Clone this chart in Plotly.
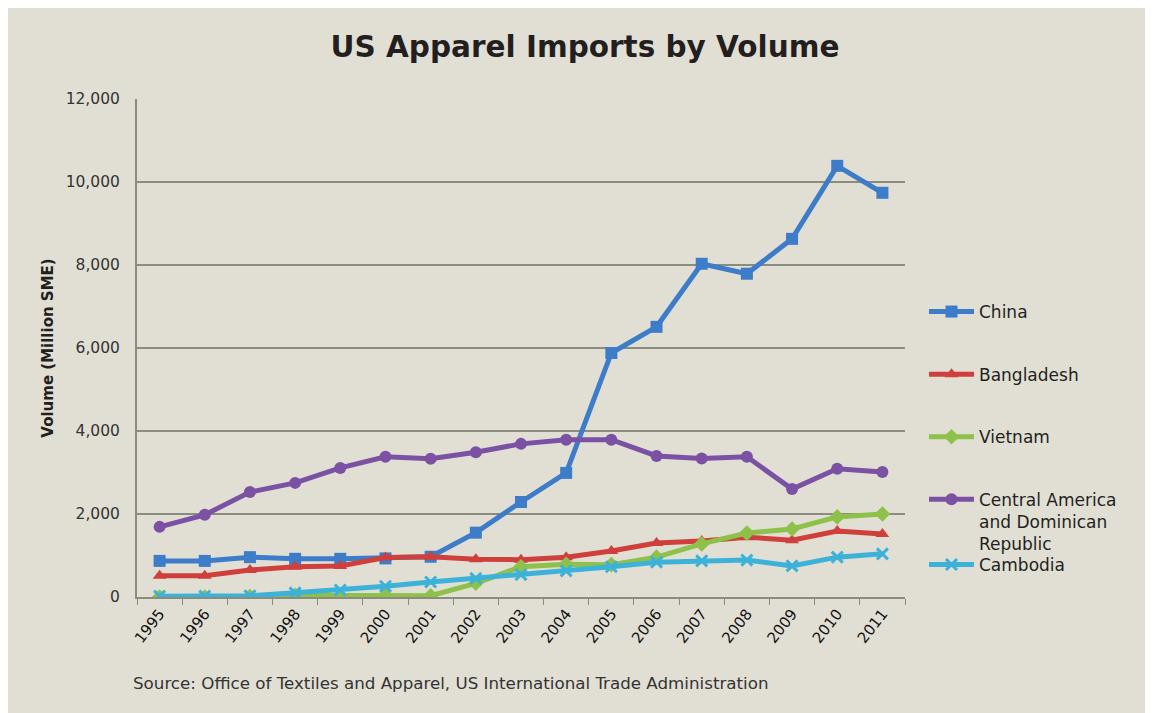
import plotly.graph_objects as go

##### Data (million SME) #####
years = [str(y) for y in range(1995, 2012)]
china = [870, 870, 960, 920, 920, 930, 970, 1550, 2290, 2990, 5880, 6510, 8030, 7790, 8630, 10390, 9740]
bangladesh = [510, 510, 650, 730, 750, 950, 970, 910, 900, 960, 1110, 1300, 1350, 1440, 1370, 1590, 1520]
vietnam = [0, 0, 10, 40, 30, 40, 30, 330, 730, 790, 780, 960, 1280, 1540, 1640, 1930, 2000]
central_am = [1690, 1980, 2530, 2750, 3110, 3380, 3330, 3490, 3690, 3790, 3790, 3400, 3340, 3380, 2600, 3090, 3010]
cambodia = [20, 20, 30, 100, 170, 260, 360, 450, 540, 630, 730, 840, 870, 890, 750, 960, 1040]

names = ["China", "Bangladesh", "Vietnam", "Central America<br>and Dominican<br>Republic", "Cambodia"]
colors = ["#3D7CC9", "#CF3F3C", "#8DC14A", "#7B52A3", "#3CB2D8"]
symbols = ["square", "triangle-up", "diamond", "circle", "x-thin"]
series = [china, bangladesh, vietnam, central_am, cambodia]

FONT = "DejaVu Sans"
BG = "#E1DFD4"

# page body has an 8px margin; the figure runs past the right/bottom edge like the original
W, H = 1153, 713
L, T = 129, 91          # plot area left / top inside the figure
PW, PH = 768, 498       # plot area size

fig = go.Figure()
for k, (nm, vals) in enumerate(zip(names, series)):
    mk = dict(symbol=symbols[k], size=12, color=colors[k])
    if symbols[k] == "x-thin":
        mk.update(size=11, line=dict(width=3, color=colors[k]))
    fig.add_trace(go.Scatter(
        x=years, y=vals, name=nm, mode="lines+markers",
        line=dict(color=colors[k], width=5),
        marker=mk, legendgroup=str(k),
        legend="legend2" if k == 4 else "legend",
    ))

def py(fig_y):
    # figure pixel y -> paper coordinate
    return (T + PH - fig_y) / PH

def px(fig_x):
    return (fig_x - L) / PW

fig.update_layout(
    width=W, height=H,
    margin=dict(l=L, r=W - L - PW, t=T, b=H - T - PH),
    paper_bgcolor=BG, plot_bgcolor=BG,
    font=dict(family=FONT, color="#333333"),
    title=dict(text="<b>US Apparel Imports by Volume</b>", x=px(577), xref="paper",
               xanchor="center", y=1 - 39 / H, yanchor="middle",
               font=dict(size=29.5, color="#231f20", family=FONT)),
    showlegend=True,
    legend=dict(x=px(916), xanchor="left", y=py(286), yanchor="top", bgcolor="rgba(0,0,0,0)",
                font=dict(size=17, color="#231f20"), tracegroupgap=37.5, valign="top",
                itemwidth=45),
    legend2=dict(x=px(916), xanchor="left", y=py(539), yanchor="top",
                 bgcolor="rgba(0,0,0,0)", font=dict(size=17, color="#231f20"),
                 valign="top", itemwidth=45),
    xaxis=dict(type="category", range=[-0.5, 16.5], showgrid=False, showline=True,
               linecolor="#8B8B7E", linewidth=2, ticks="outside", tickson="boundaries",
               ticklen=6, tickcolor="#8B8B7E", tickangle=-52,
               tickfont=dict(size=15, color="#111111", family=FONT)),
    yaxis=dict(range=[0, 12000], dtick=2000, tickformat=",d", showgrid=True,
               gridcolor="#8B8B7E", gridwidth=1.5, showline=True, linecolor="#8B8B7E",
               linewidth=2, ticks="", zeroline=False, ticklabelstandoff=12,
               tickfont=dict(size=15.5, color="#333333", family=FONT),
               title=dict(text="<b>Volume (Million SME)</b>", standoff=8,
                          font=dict(size=15, color="#231f20", family=FONT))),
    annotations=[dict(text="Source: Office of Textiles and Apparel, US International Trade Administration",
                      xref="paper", yref="paper", x=px(123), y=py(675),
                      xanchor="left", yanchor="middle", showarrow=False,
                      font=dict(size=16.7, color="#333333", family=FONT))],
)

fig.write_html("out.html")
